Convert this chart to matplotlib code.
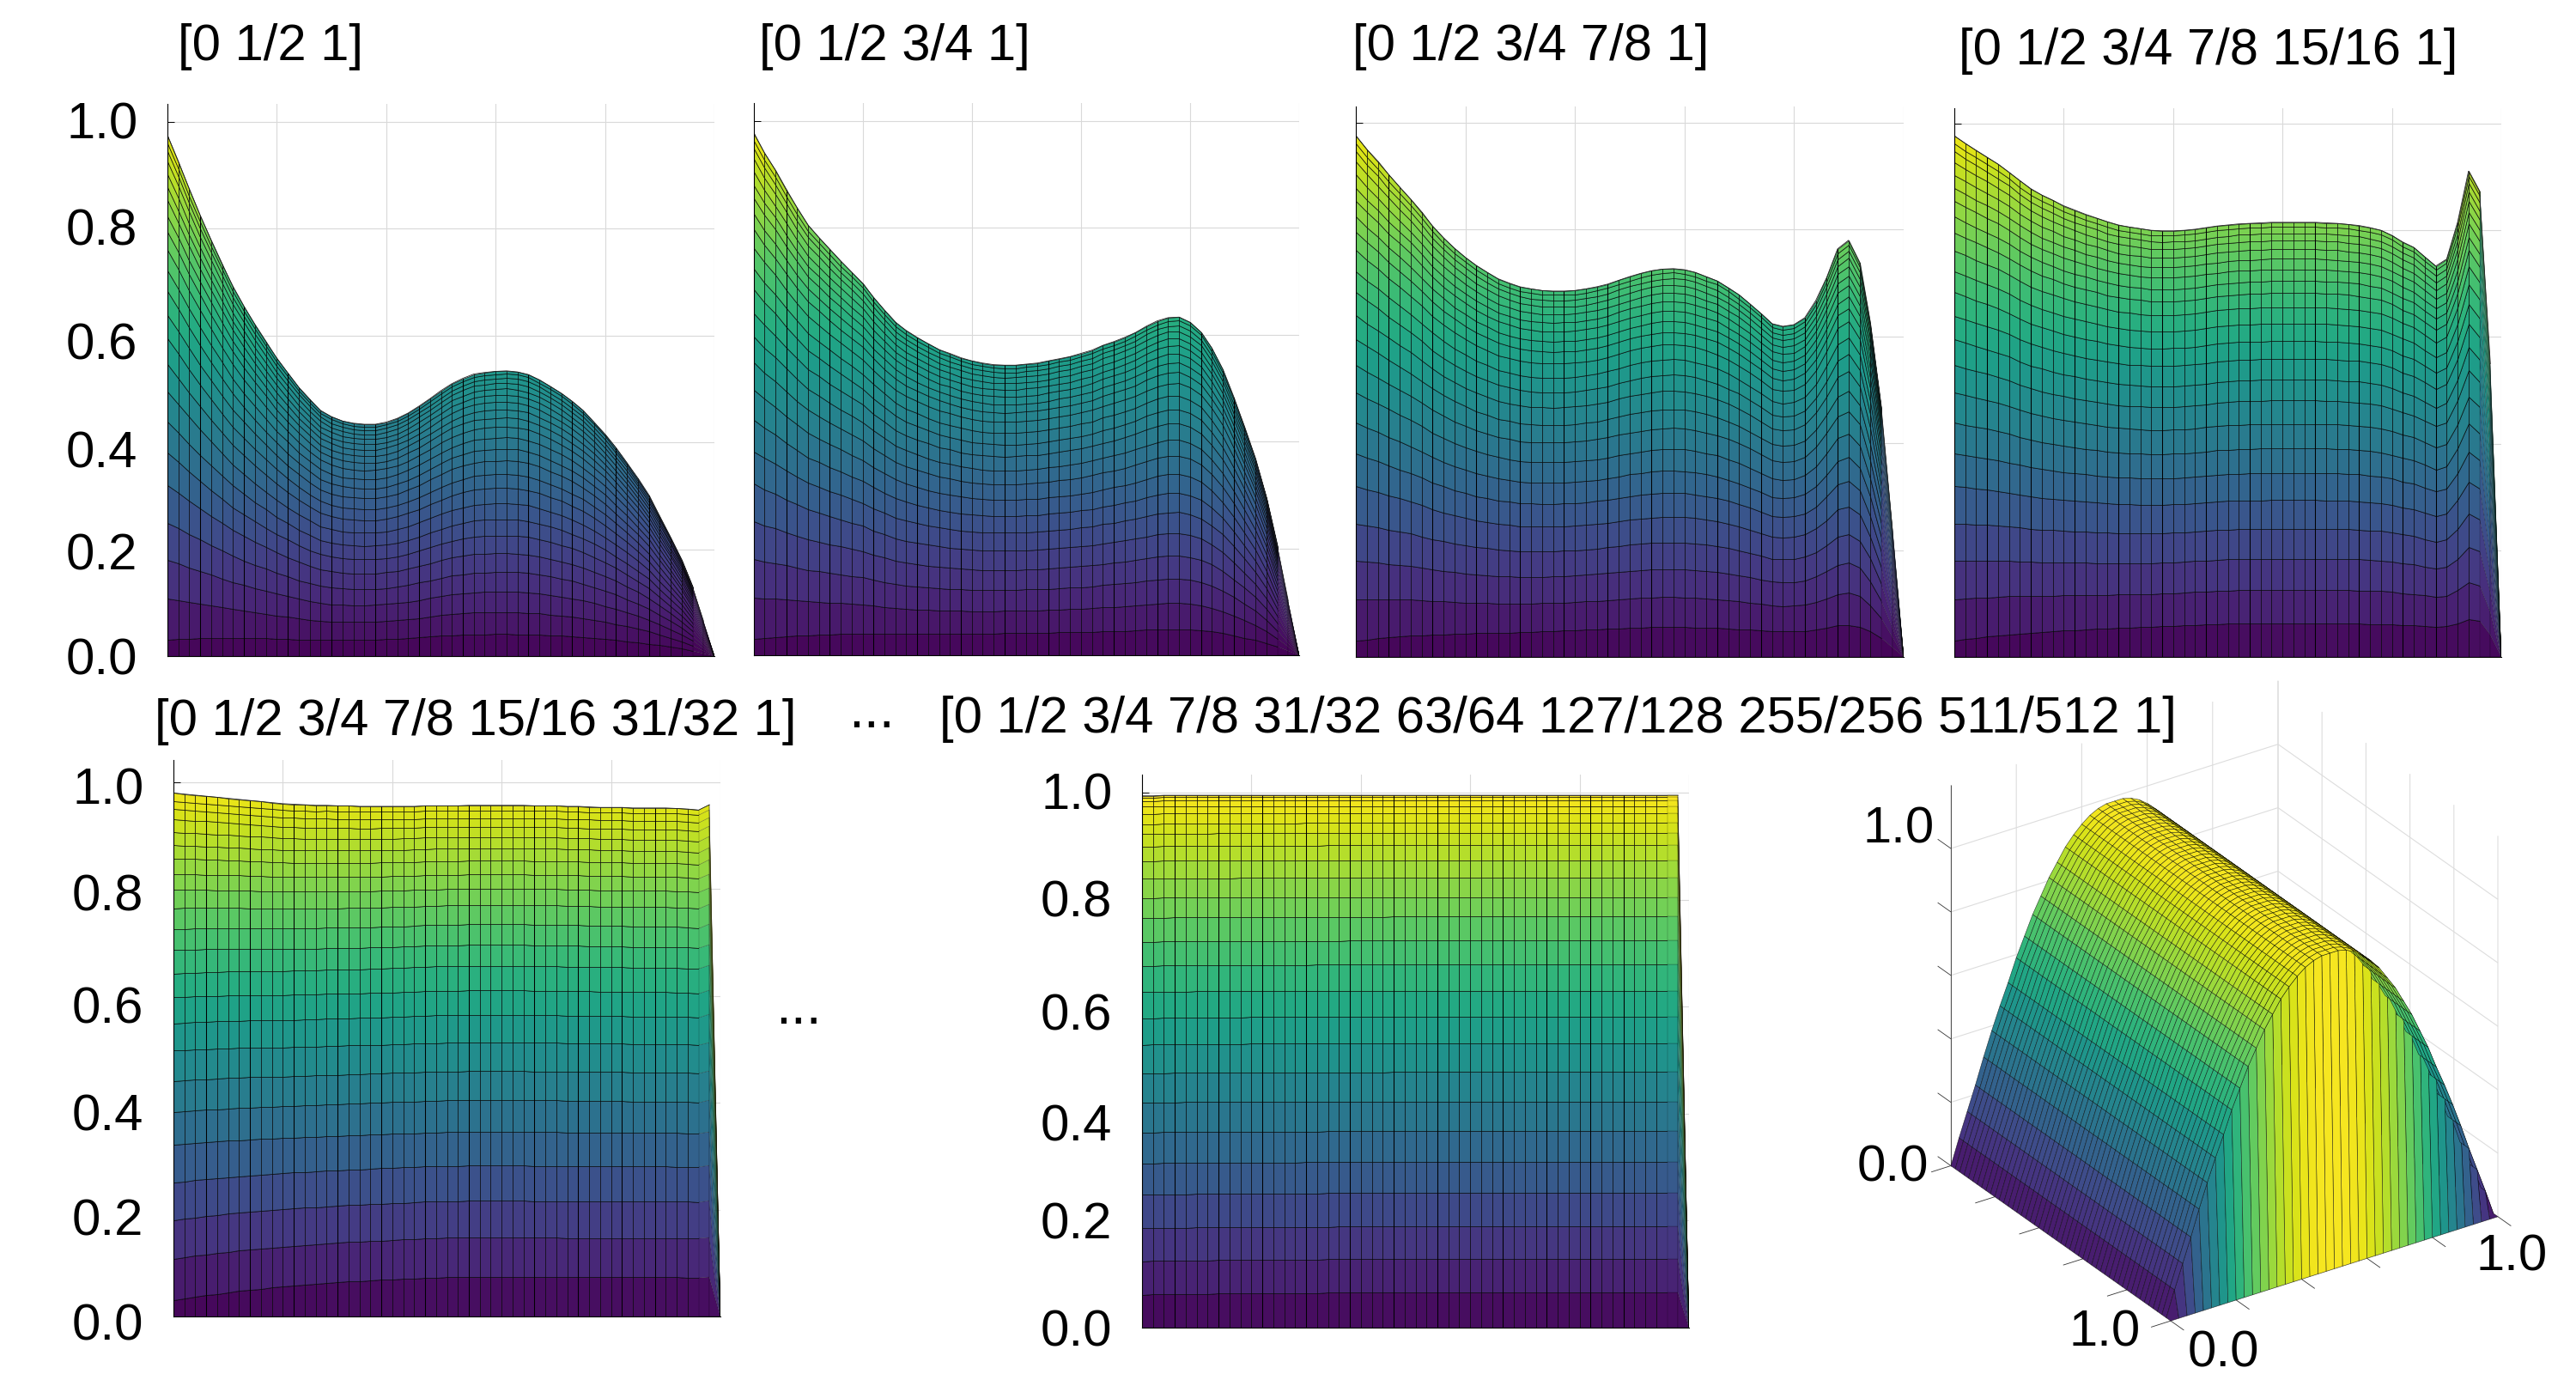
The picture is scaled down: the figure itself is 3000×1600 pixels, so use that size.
import numpy as np
import matplotlib
matplotlib.use("Agg")
import matplotlib.pyplot as plt
from matplotlib.transforms import ScaledTranslation
from mpl_toolkits.mplot3d import proj3d

plt.rcParams['font.family'] = ['Liberation Sans', 'DejaVu Sans']

W, H = 3000, 1600
FS = 43

# profile along t (step 0.02) of the top edge of the surface, read from each side view
top_p1 = [.975,.925,.875,.825,.778,.733,.692,.655,.62,.588,.558,.53,.503,.48,.46,.448,.44,.436,.434,.434,
          .438,.445,.455,.468,.482,.497,.51,.52,.528,.531,.533,.534,.532,.527,.517,.505,.492,.477,.46,.438,
          .415,.39,.362,.332,.30,.262,.222,.18,.128,.066,0]
top_p2 = [.978,.941,.908,.871,.838,.805,.782,.76,.738,.717,.696,.67,.646,.623,.608,.595,.583,.572,.565,.557,
          .551,.547,.544,.543,.543,.545,.547,.551,.555,.559,.565,.571,.58,.587,.595,.604,.616,.626,.632,.633,
          .623,.605,.575,.535,.482,.428,.368,.295,.202,.102,0]
top_p3 = [.976,.95,.927,.903,.88,.857,.832,.807,.785,.765,.748,.733,.72,.708,.70,.693,.689,.686,.685,.685,
          .686,.689,.693,.698,.705,.712,.718,.723,.726,.727,.725,.72,.712,.704,.691,.678,.661,.643,.624,.619,
          .622,.635,.667,.71,.764,.78,.738,.625,.465,.24,0]
top_p4 = [.977,.963,.95,.937,.924,.909,.893,.878,.866,.856,.846,.838,.83,.823,.816,.81,.806,.803,.80,.799,
          .799,.80,.802,.805,.808,.81,.812,.813,.814,.815,.815,.815,.815,.815,.814,.813,.811,.809,.805,.80,
          .79,.778,.768,.75,.733,.746,.815,.911,.873,.55,0]
top_p5 = [.98,.978,.976,.974,.972,.97,.968,.966,.964,.962,.96,.959,.958,.957,.957,.956,.956,.955,.955,.955,
          .955,.955,.955,.956,.956,.956,.956,.957,.957,.957,.957,.957,.957,.956,.956,.956,.955,.955,.954,.953,
          .953,.953,.952,.952,.952,.952,.951,.95,.948,.958,0]
top_p6 = [.994,.994,.995,.995,.995,.995,.995,.995,.995,.995,.995,.995,.995,.995,.995,.995,.995,.995,.995,.995,
          .995,.995,.995,.995,.995,.995,.995,.995,.995,.995,.995,.995,.995,.995,.995,.995,.995,.995,.995,.995,
          .995,.995,.995,.995,.995,.995,.995,.995,.995,.995,0]

# height of each mesh row as a share of the top edge: interior, and at t = 0
row_share = [.077,.154,.226,.295,.361,.423,.48,.536,.59,.638,.686,.727,.767,.805,.837,.865,.892,.916,.938,.958,.975,.99,1.0]
row_share_left = [.031,.11,.184,.256,.328,.39,.45,.508,.56,.61,.655,.70,.74,.78,.815,.845,.875,.90,.925,.95,.97,.985,1.0]
row_share_p6 = [.066,.129,.19,.253,.311,.369,.425,.48,.534,.584,.633,.682,.727,.772,.809,.845,.878,.906,.929,.948,.966,.98,.99,.997,1.0]
row_share_p6_left = [.062,.125,.187,.25,.309,.367,.423,.478,.532,.582,.631,.68,.725,.77,.808,.844,.877,.905,.928,.947,.966,.98,.99,.997,1.0]
left_t = [0,.05,.1,.15,.2,.25,.3,.35,.4,.45,.5]
left_weight = [1,.82,.66,.52,.4,.3,.22,.15,.09,.04,0]
dark_t = [.06,.14,.22,.30,.38,.46,.54,.66,.74,.82,.88]

# arch across s (step 0.025) of the 3-D view
arch_s = [0,.08,.155,.23,.31,.385,.455,.52,.59,.65,.71,.76,.81,.85,.89,.92,.945,.965,.978,.985,.985,
          .985,.978,.965,.945,.92,.89,.85,.81,.76,.71,.65,.59,.52,.455,.385,.31,.23,.155,.08,0]

ticks_v = [0, .2, .4, .6, .8, 1]
tick_labels = ['0.0', '0.2', '0.4', '0.6', '0.8', '1.0']

titles = ['[0 1/2 1]', '[0 1/2 3/4 1]', '[0 1/2 3/4 7/8 1]', '[0 1/2 3/4 7/8 15/16 1]',
          '[0 1/2 3/4 7/8 15/16 31/32 1]', '[0 1/2 3/4 7/8 31/32 63/64 127/128 255/256 511/512 1]']
title_xy = [(207, 70), (884, 70), (1575, 70), (2281, 75), (180, 856), (1094, 853)]

# panel frames in figure pixels: left, right, y of 0, y of 1, y of top
frames = [(195, 832, 764, 142, 121), (877.5, 1513, 763, 141, 120), (1579, 2216.5, 765, 143, 124),
          (2276, 2913, 765, 144, 126), (202, 839, 1533, 911, 885), (1330, 1967, 1546, 923, 902)]
tops = [top_p1, top_p2, top_p3, top_p4, top_p5, top_p6]
show_labels = [True, False, False, False, True, True]
# the labels in the reference sit a little off their ticks (pixels downward)
label_shift = {0: [0, 2, 8, 6, -2, -2], 4: [6, 8, 11, 10, 4, 4], 5: [0, 0, 10, 6, -2, -2]}

fig = plt.figure(figsize=(W / 100, H / 100), dpi=100, facecolor='white')
t = np.linspace(0, 1, 51)


def ftext(x, y, s, **kw):
    kw.setdefault('fontsize', FS)
    kw.setdefault('ha', 'left')
    kw.setdefault('va', 'baseline')
    fig.text(x / W, 1 - y / H, s, **kw)


for k, (fr, top) in enumerate(zip(frames, tops)):
    l, r, y0, y1, yt = fr
    ymax = (y0 - yt) / (y0 - y1)
    ax = fig.add_axes([l / W, 1 - y0 / H, (r - l) / W, (y0 - yt) / H])
    ax.set_xlim(0, 1)
    ax.set_ylim(0, ymax)
    top = np.array(top)
    if k == 5:
        share, share0 = np.array(row_share_p6), np.array(row_share_p6_left)
    else:
        share, share0 = np.array(row_share), np.array(row_share_left)
    weight = np.interp(t, left_t, left_weight)
    Z = np.zeros((len(share) + 1, len(t)))
    for i in range(len(share)):
        Z[i + 1] = top * (share[i] + (share0[i] - share[i]) * weight)
    C = 0.25 * (Z[:-1, :-1] + Z[1:, :-1] + Z[:-1, 1:] + Z[1:, 1:])
    C[:, -1] = 0.5 * (Z[:-1, -2] + Z[1:, -2])
    X = np.tile(t, (Z.shape[0], 1))
    # the last, steep columns get thinner lines so that they do not close up
    ax.pcolormesh(X[:, :-2], Z[:, :-2], C[:, :-2], cmap='viridis', vmin=0, vmax=1, shading='flat',
                  edgecolors=(0, 0, 0, .8), linewidth=.55, antialiased=True, zorder=1)
    ax.pcolormesh(X[:, -3:], Z[:, -3:], C[:, -2:], cmap='viridis', vmin=0, vmax=1, shading='flat',
                  edgecolors=(0, 0, 0, .45), linewidth=.3, antialiased=True, zorder=1)
    idx = [int(round(d / .02)) for d in dark_t]
    ax.vlines(t[idx], 0, top[idx], color='k', lw=.75, zorder=2)
    ax.plot(t[:-1], top[:-1], color='#222222', lw=.6, zorder=2)

    ax.set_axisbelow(True)
    ax.set_xticks(ticks_v)
    ax.set_xticklabels([])
    ax.set_yticks(ticks_v)
    ax.set_yticklabels(tick_labels if show_labels[k] else [])
    ax.grid(True, color='#d9d9d9', lw=.8)
    ax.tick_params(axis='x', length=0)
    ax.tick_params(axis='y', direction='in', length=6, width=.7, pad=25, labelsize=FS, color='k')
    for sp in ['top', 'right']:
        ax.spines[sp].set_visible(False)
    for sp in ['left', 'bottom']:
        ax.spines[sp].set_linewidth(.8)
        ax.spines[sp].set_color('k')
    if k in label_shift:
        for lab, dy in zip(ax.get_yticklabels(), label_shift[k]):
            lab.set_transform(lab.get_transform() + ScaledTranslation(0, -dy / 100, fig.dpi_scale_trans))
    ftext(*title_xy[k], titles[k])

ftext(988, 847, '...', fontsize=46)
ftext(903, 1192, '...', fontsize=46)

# 3-D view -------------------------------------------------------------------
ax3 = fig.add_axes([2090 / W, 1 - 1620 / H, 1000 / W, 1000 / H], projection='3d', proj_type='ortho')
ax3.set_facecolor('none')
ax3.patch.set_alpha(0)
ax3.view_init(elev=28.3, azim=-33.9)
s = np.linspace(0, 1, 41)
arch = np.array(arch_s)
TT, SS = np.meshgrid(t, s, indexing='ij')
ZZ = np.tile(arch, (len(t), 1))
ZZ[-1, :] = 0
Cq = np.maximum.reduce([ZZ[:-1, :-1], ZZ[1:, :-1], ZZ[:-1, 1:], ZZ[1:, 1:]])
face = plt.get_cmap('viridis')(Cq)
ax3.plot_surface(TT, SS, ZZ, facecolors=face, rstride=1, cstride=1, shade=False,
                 edgecolor=(0, 0, 0, .75), linewidth=.4, antialiased=True)
ax3.set_xticks(ticks_v)
ax3.set_yticks(ticks_v)
ax3.set_zticks(ticks_v)
ax3.set_xticklabels([])
ax3.set_yticklabels([])
ax3.set_zticklabels([])
for a in (ax3.xaxis, ax3.yaxis, ax3.zaxis):
    a.set_pane_color((1, 1, 1, 0))
    a.pane.set_edgecolor((1, 1, 1, 0))
    a._axinfo['grid'].update(color='#dddddd', linewidth=.8)
    a.set_ticks_position('none')

# axis line and ticks of the reference's view
AX_KW = dict(color='#333333', lw=.6, solid_capstyle='butt')
TICK = .06
ax3.plot([0, 0], [0, 0], [0, 1.2], **AX_KW)
for v in ticks_v:
    ax3.plot([0, -TICK], [0, 0], [v, v], **AX_KW)
    ax3.plot([v, v], [0, -TICK], [0, 0], **AX_KW)
    ax3.plot([1, 1 + TICK], [v, v], [0, 0], **AX_KW)
ax3.set_xlim(0, 1, view_margin=0)
ax3.set_ylim(0, 1, view_margin=0)
ax3.set_zlim(0, 1.2, view_margin=0)

zoom = 1.0
aspect = (1, 1, 1.097)
ax3.set_box_aspect(aspect, zoom=zoom)


def px(ax_, x, y, z):
    fig.canvas.draw()
    xs, ys, _ = proj3d.proj_transform(x, y, z, ax_.get_proj())
    return ax_.transData.transform((xs, ys))


for _ in range(2):
    A = px(ax3, 0, 0, 0)
    R = px(ax3, 1, 1, 0)
    zoom *= (2909 - 2272) / (R[0] - A[0])
    ax3.set_box_aspect(aspect, zoom=zoom)
A = px(ax3, 0, 0, 0)
pos = ax3.get_position()
dx = (2272 - A[0]) / W
dy = ((H - 1357.5) - A[1]) / H
ax3.set_position([pos.x0 + dx, pos.y0 + dy, pos.width, pos.height])

ftext(2170, 981, '1.0')
ftext(2163, 1375, '0.0')
ftext(2410, 1568, '1.0')
ftext(2548, 1592, '0.0')
ftext(2884, 1479, '1.0')

fig.savefig('out.png', dpi=100, facecolor='white')
